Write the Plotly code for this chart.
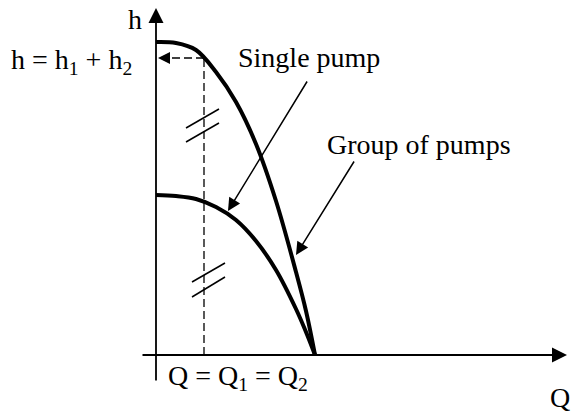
import plotly.graph_objects as go

# Discharge Q and head h (schematic units)
q_group = [0, 20, 40, 60, 80, 100, 120, 140, 150, 159]
h_group = [313, 312, 305, 283, 253, 211, 154, 83, 44, 0]

q_single = [0, 20, 40, 60, 80, 100, 120, 140, 150, 159]
h_single = [160, 159, 156, 148, 135, 114, 85, 46, 23, 0]

q_mark = [48, 48]          # Q = Q1 = Q2
h_mark = [0, 297]          # h = h1 + h2

FONT = "Liberation Serif, Times New Roman, serif"

fig = go.Figure()

fig.add_trace(go.Scatter(x=q_group, y=h_group, mode="lines",
                         line=dict(color="black", width=4, shape="spline", smoothing=1.0),
                         hoverinfo="skip", showlegend=False))
fig.add_trace(go.Scatter(x=q_single, y=h_single, mode="lines",
                         line=dict(color="black", width=4, shape="spline", smoothing=1.0),
                         hoverinfo="skip", showlegend=False))
# vertical dashed line
fig.add_trace(go.Scatter(x=q_mark, y=h_mark, mode="lines",
                         line=dict(color="black", width=1.3, dash="8px,4px"),
                         hoverinfo="skip", showlegend=False))

ann = []
def arrow(x0, y0, x1, y1, width=1.5, size=1.7, head=2):
    ann.append(dict(x=x1, y=y1, ax=x0, ay=y0, xref="x", yref="y", axref="x", ayref="y",
                    text="", showarrow=True, arrowhead=head, arrowsize=size,
                    arrowwidth=width, arrowcolor="black", standoff=0, startstandoff=0))

# axes with arrows
arrow(-15, 0, 411, 0, width=1.8, size=1.67)
arrow(0, -27, 0, 347, width=1.8, size=1.67)
# dashed horizontal arrow
fig.add_shape(type="line", x0=q_mark[0], y0=h_mark[1], x1=8, y1=h_mark[1],
              line=dict(color="black", width=1.3, dash="8px,4px"))
arrow(12, h_mark[1], 2, h_mark[1], width=1.2, size=2.0)

# label arrows
arrow(152, 275, 72, 144)
arrow(199, 195, 140, 100)

# double-slash marks on the dashed line
for (a0, b0, a1, b1) in [(30, 227, 63, 246), (30, 213, 63, 232),
                         (36, 73, 69, 92), (36, 58, 69, 78)]:
    fig.add_shape(type="line", x0=a0, y0=b0, x1=a1, y1=b1,
                  line=dict(color="black", width=1.5))

def text(x, y, s, xanchor="center", size=28):
    ann.append(dict(x=x, y=y, xref="x", yref="y", text=s, showarrow=False,
                    xanchor=xanchor, yanchor="middle",
                    font=dict(family=FONT, size=size, color="black")))

text(-21, 336, "h")
text(-22, 294, "h = h<sub>1</sub> + h<sub>2</sub>", xanchor="right")
text(153, 298, "Single pump")
text(263, 211, "Group of pumps")
text(10, -22, "Q = Q<sub>1</sub> = Q<sub>2</sub>", xanchor="left")
text(404, -42, "Q")

fig.update_layout(
    width=572, height=413, autosize=False,
    margin=dict(l=0, r=0, t=0, b=0),
    paper_bgcolor="white", plot_bgcolor="white",
    xaxis=dict(range=[-156, 416], visible=False, fixedrange=True),
    yaxis=dict(range=[-58, 355], visible=False, fixedrange=True),
    annotations=ann,
    showlegend=False,
)

fig.write_html("out.html", config={"displayModeBar": False},
               post_script="document.body.style.margin='0';document.body.style.overflow='hidden';")
